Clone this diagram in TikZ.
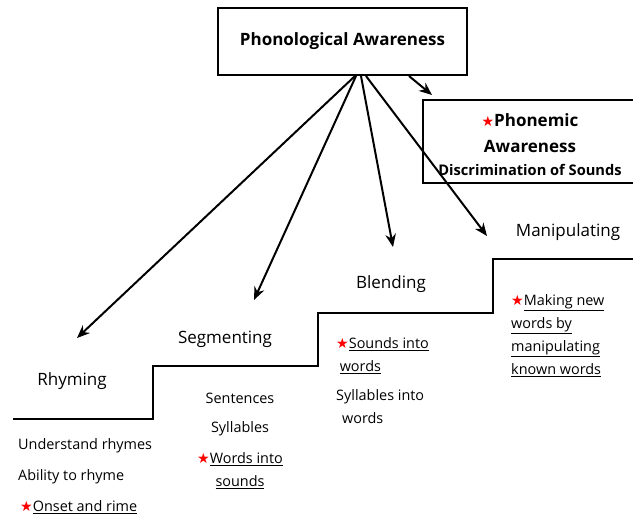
\documentclass[tikz,border=0pt]{standalone}
\usepackage{fontspec}
\setmainfont{Open Sans}
\newfontfamily\starfont{DejaVu Sans}
\usetikzlibrary{arrows.meta}

\newcommand{\redstar}{{\starfont\color{red}\fontsize{12}{12}\selectfont ★}}

\begin{document}
\begin{tikzpicture}[x=0.03cm,y=-0.03cm,
    box/.style={draw,line width=2.4pt,inner sep=0pt},
    arr/.style={-{Stealth[length=11pt,width=9pt]},line width=1.7pt},
    steplabel/.style={font=\fontsize{14.5}{17}\selectfont,inner sep=0pt},
    item/.style={font=\fontsize{12.3}{19.6}\selectfont,inner sep=0pt}]
  \useasboundingbox (0,0) rectangle (633,519);

  % boxes
  \node[box,minimum width=7.47cm,minimum height=2.01cm,font=\bfseries\fontsize{14.5}{17}\selectfont]
    (pa) at (342.5,41.5) {Phonological Awareness};
  \node[box,minimum width=6.6cm,minimum height=2.49cm,align=center,
        font=\bfseries\fontsize{14.5}{22}\selectfont]
    (pm) at (533,141.5) {};
  \node[align=center,font=\bfseries\fontsize{14.5}{22}\selectfont,inner sep=0pt]
    (pmtext) at (530,145) {\redstar Phonemic\\Awareness\\[-2pt]{\fontsize{12.5}{14}\selectfont Discrimination of Sounds}};

  % stairs
  \draw[line width=2.4pt] (13,419) -- (153,419) -- (153,366) -- (318,366)
    -- (318,313) -- (493,313) -- (493,259) -- (640,259);

  % step labels
  \node[steplabel] (rhy) at (72,381) {Rhyming};
  \node[steplabel] (seg) at (225,339) {Segmenting};
  \node[steplabel] (ble) at (391,284) {Blending};
  \node[steplabel] (man) at (568,232) {Manipulating};

  % arrows out of the title box
  \def\sources{355/76,356/76,361/76,366/76,409/76}
  \def\tips{77/338,254/300,393/247,487/236,432/95}
  \foreach \sx/\sy [count=\i] in \sources
    \coordinate (src\i) at (\sx,\sy);
  \foreach \tx/\ty [count=\i] in \tips
    \coordinate (tip\i) at (\tx,\ty);
  \foreach \i in {1,...,5}
    \draw[arr] (src\i) -- (tip\i);

  % rhyming list
  \node[item,anchor=mid west] (r1) at (18,446) {Understand rhymes};
  \node[item,anchor=mid west] (r2) at (18,477) {Ability to rhyme};
  \node[item,anchor=mid west] (r3) at (20,508) {\redstar\underline{Onset and rime}};

  % segmenting list
  \node[item] (s1) at (240,398) {Sentences};
  \node[item] (s2) at (240,429) {Syllables};
  \node[item,align=center] (s3) at (240,471) {\redstar\underline{Words into}\\\underline{sounds}};

  % blending list
  \node[item,align=left,anchor=north west] (b1) at (336,337) {\redstar\underline{Sounds into}\\\hspace{3pt}\underline{words}};
  \node[item,align=left,anchor=north west] (b2) at (336,389) {Syllables into\\\hspace{5pt}words};

  % manipulating list
  \node[item,align=left,anchor=north west] (m1) at (511,294)
    {\redstar\underline{Making new}\\\underline{words by}\\\underline{manipulating}\\\underline{known words}};
\end{tikzpicture}
\end{document}
